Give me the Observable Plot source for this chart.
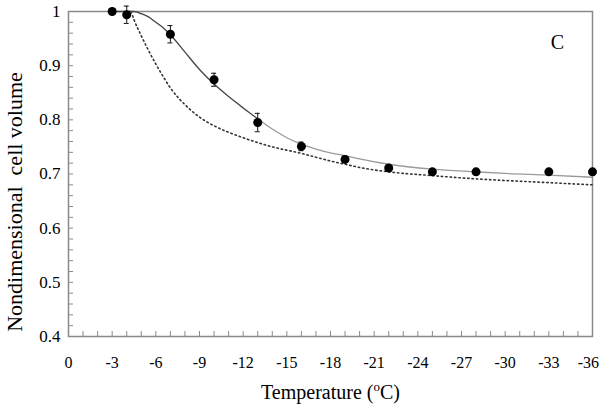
<!DOCTYPE html>
<html>
<head>
<meta charset="utf-8">
<script src="https://cdn.jsdelivr.net/npm/d3@7"></script>
<script src="https://cdn.jsdelivr.net/npm/@observablehq/plot@0.6"></script>
<style>
  html, body { margin: 0; padding: 0; background: #fff; }
  svg text { white-space: pre; }
</style>
</head>
<body>
<div id="chart"></div>
<script>
// Measured data points (temperature °C, nondimensional volume, error)
const temps   = [-3, -4, -7, -10, -13, -16, -19, -22, -25, -28, -33, -36];
const volumes = [1.0, 0.994, 0.958, 0.874, 0.795, 0.751, 0.727, 0.711, 0.704, 0.704, 0.704, 0.704];
const errors  = [0, 0.016, 0.016, 0.012, 0.017, 0.008, 0.006, 0.005, 0, 0, 0, 0];

// Solid model curve
const fitT = [-3, -4.5, -5, -5.5, -6, -6.5, -7, -8, -9, -10, -11, -12, -13, -14, -15, -16, -17, -18, -19, -20, -22, -25, -28, -30, -33, -36];
const fitV = [1, 1, 0.996, 0.99, 0.98, 0.97, 0.957, 0.925, 0.893, 0.866, 0.843, 0.822, 0.802, 0.783, 0.767, 0.755, 0.746, 0.739, 0.734, 0.728, 0.718, 0.709, 0.704, 0.701, 0.698, 0.694];

// Dotted model curve
const dotT = [-4.3, -4.5, -5, -5.5, -6, -6.5, -7, -7.5, -8, -9, -10, -11, -12, -13, -14, -15, -16, -17, -18, -19, -20, -22, -25, -28, -30, -33, -36];
const dotV = [1, 0.985, 0.955, 0.928, 0.903, 0.88, 0.859, 0.842, 0.828, 0.805, 0.789, 0.777, 0.767, 0.758, 0.75, 0.744, 0.738, 0.731, 0.724, 0.718, 0.712, 0.704, 0.697, 0.691, 0.688, 0.684, 0.68];

// Tick values
const xMajor = [0, -3, -6, -9, -12, -15, -18, -21, -24, -27, -30, -33, -36];
const xMinor = d3.range(0, -37, -1);
const yMajor = [0.4, 0.5, 0.6, 0.7, 0.8, 0.9, 1];
const yMinor = d3.range(0, 31).map(i => +(0.4 + i * 0.02).toFixed(2));

const points = temps.map((t, i) => ({t, v: volumes[i], e: errors[i]}));
const errPts = points.filter(d => d.e > 0);
const fit = fitT.map((t, i) => ({t, v: fitV[i]}));
const dotted = dotT.map((t, i) => ({t, v: dotV[i]}));

const W = 600, H = 406, mL = 68, mR = 8, mT = 11, mB = 70;
const xDom = [0, -36], yDom = [0.4, 1];
const pxX = (xDom[0] - xDom[1]) / (W - mL - mR);   // data units per px (x)
const pxY = (yDom[1] - yDom[0]) / (H - mT - mB);   // data units per px (y)
const axisGray = "#8a8a8a";

const chart = Plot.plot({
  width: W, height: H,
  marginLeft: mL, marginRight: mR, marginTop: mT, marginBottom: mB,
  style: {fontFamily: "'Liberation Serif', 'Times New Roman', serif", color: "#000", background: "#fff"},
  x: {domain: xDom},
  y: {domain: yDom},
  marks: [
    Plot.frame({stroke: axisGray, strokeWidth: 1.5}),
    // inward minor ticks
    Plot.ruleX(xMinor, {x: d => d, y1: yDom[0], y2: yDom[0] + 5 * pxY, stroke: axisGray, strokeWidth: 1}),
    Plot.ruleY(yMinor, {y: d => d, x1: xDom[0], x2: xDom[0] - 5 * pxX, stroke: axisGray, strokeWidth: 1}),
    Plot.axisX({ticks: xMajor, tickSize: 0, tickPadding: 20, tickFormat: d => String(d), fontSize: 16, label: null}),
    Plot.axisY({ticks: yMajor, tickSize: 0, tickPadding: 8, tickFormat: d => String(d), fontSize: 17, label: null}),
    // dotted curve
    Plot.line(dotted, {x: "t", y: "v", stroke: "#333", strokeWidth: 1.6, strokeDasharray: "1.4,3", curve: "monotone-x"}),
    // solid curve (dark then light part)
    Plot.line(fit.filter(d => d.t >= -13), {x: "t", y: "v", stroke: "#444", strokeWidth: 1.3, curve: "monotone-x"}),
    Plot.line(fit.filter(d => d.t <= -13), {x: "t", y: "v", stroke: "#9a9a9a", strokeWidth: 1.3, curve: "monotone-x"}),
    // error bars
    Plot.ruleX(errPts, {x: "t", y1: d => d.v - d.e, y2: d => d.v + d.e, stroke: "#111", strokeWidth: 1}),
    Plot.ruleY(errPts, {y: d => d.v + d.e, x1: d => d.t + 2.5 * pxX, x2: d => d.t - 2.5 * pxX, stroke: "#111", strokeWidth: 1}),
    Plot.ruleY(errPts, {y: d => d.v - d.e, x1: d => d.t + 2.5 * pxX, x2: d => d.t - 2.5 * pxX, stroke: "#111", strokeWidth: 1}),
    Plot.dot(points, {x: "t", y: "v", r: 4.5, fill: "#000", stroke: "none"}),
    // panel letter
    Plot.text(["C"], {frameAnchor: "top-right", dx: -35, dy: 31, fontSize: 20, textAnchor: "middle", lineAnchor: "middle", fill: "#000"}),
    // axis titles
    Plot.text(["Temperature (oC)"], {frameAnchor: "bottom", dy: 62, fontSize: 20, lineAnchor: "bottom", fill: "#000"}),
    Plot.text(["Nondimensional\u00a0 cell volume"], {frameAnchor: "left", dx: 14 - mL, dy: 28, rotate: -90, fontSize: 22, textAnchor: "middle", lineAnchor: "middle", fill: "#000"})
  ]
});

// superscript "o" in the x-axis title
chart.querySelectorAll("text").forEach(t => {
  if (t.textContent === "Temperature (oC)") {
    t.innerHTML = 'Temperature (<tspan dy="-8" font-size="13">o</tspan><tspan dy="8">C)</tspan>';
  }
});

document.getElementById("chart").appendChild(chart);

// keep the last x tick label inside the window, as in the reference
chart.querySelectorAll("text").forEach(t => {
  if (t.textContent === "-36") {
    const b = t.getBBox();
    const ctm = t.getCTM();
    const right = ctm ? ctm.e + b.x + b.width : 0;
    if (right > W - 1) t.setAttribute("dx", String(-(right - (W - 1))));
  }
});
</script>
</body>
</html>
